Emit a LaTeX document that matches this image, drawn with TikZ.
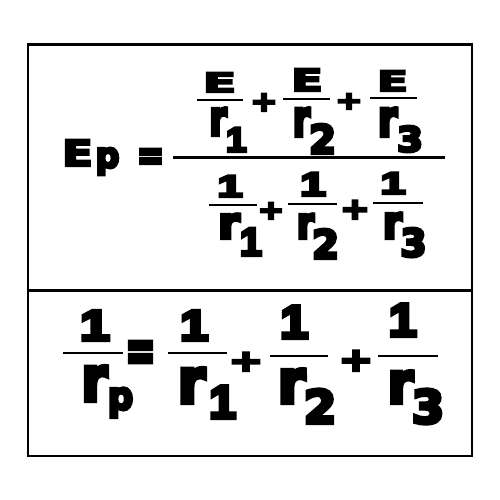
\documentclass[tikz,border=0pt]{standalone}
\usepackage{fontspec}
\usepackage{graphicx}
\newfontfamily\hv{DejaVu Sans Bold}[FakeBold=8]
\newfontfamily\hvE{DejaVu Sans Bold}[FakeBold=6]
\newfontfamily\hvone{Liberation Sans Bold}[FakeBold=8]
\newcommand\gfac{0.9}
\newcommand\gly[5]{\pgfmathsetmacro\gs{#3*\gfac}%
  \node[glyph,yshift={\gs*0.04pt}] (#1) at (#2) {\fontsize{\gs pt}{\gs pt}\selectfont\scalebox{#4}[1]{#5}};}
\newcommand\glyE[5]{\pgfmathsetmacro\gs{#3*0.94}%
  \node[glyph,font=\hvE,yshift={\gs*0.03pt}] (#1) at (#2) {\fontsize{\gs pt}{\gs pt}\selectfont\scalebox{#4}[1]{#5}};}
\newcommand\glyone[4]{\pgfmathsetmacro\gs{#3*\gfac}%
  \node[glyph,font=\hvone,yshift={\gs*0.04pt},xshift={\gs*#4*0.035pt}] (#1) at (#2) {\fontsize{\gs pt}{\gs pt}\selectfont\scalebox{#4}[1]{1}};}
\begin{document}
\begin{tikzpicture}[x=1pt,y=-1pt,
  glyph/.style={inner sep=0pt,outer sep=0pt,anchor=base,font=\hv},
  frame/.style={line width=2.5pt,line cap=rect},
  fbar/.style={line width=2.2pt}]
\useasboundingbox (0,0) rectangle (500,500);
% frame
\draw[frame] (28,44.5) rectangle (472,456);
\draw[frame] (28,290.5) -- (472,290.5);
% ---- top formula ----
\glyE{EpE}{77.5,167}{38.4}{1.25}{E}
\gly{Epp}{107.5,169}{39}{0.95}{p}
\gly{eqA}{150.5,171}{46}{0.78}{=}
\coordinate (mbL) at (173,157.5); \coordinate (mbR) at (445,157.5);
\draw[fbar] (mbL) -- (mbR);
% numerator
\glyE{nE1}{219.5,93}{28.8}{1.8}{E}
\coordinate (nb1L) at (197,100); \coordinate (nb1R) at (243,100);
\draw[fbar] (nb1L) -- (nb1R);
\gly{nr1}{218,137}{53.6}{0.74}{r}
\glyone{ns1}{235,153}{38.4}{1.07}
\gly{np1}{264,112}{30.6}{1.16}{+}
\glyE{nE2}{307,92}{32.9}{1.5}{E}
\coordinate (nb2L) at (283,99); \coordinate (nb2R) at (330,99);
\draw[fbar] (nb2L) -- (nb2R);
\gly{nr2}{301.5,138}{55.4}{0.7}{r}
\gly{ns2}{322.5,155}{43.9}{0.98}{2}
\gly{np2}{349,110}{27.4}{1.3}{+}
\glyE{nE3}{392.5,92}{30.2}{1.6}{E}
\coordinate (nb3L) at (370,98); \coordinate (nb3R) at (417,98);
\draw[fbar] (nb3L) -- (nb3R);
\gly{nr3}{387.5,138}{55.4}{0.78}{r}
\gly{ns3}{410,153}{38.4}{1.08}{3}
% denominator
\glyone{d11}{228.5,198}{34.3}{1.45}
\coordinate (db1L) at (209,205); \coordinate (db1R) at (257,205);
\draw[fbar] (db1L) -- (db1R);
\gly{dr1}{229,240}{48.2}{1.0}{r}
\glyone{ds1}{249.5,257}{43.9}{1.0}
\gly{dp1}{271,220}{29}{1.2}{+}
\glyone{d12}{311.5,197}{37}{1.38}
\coordinate (db2L) at (288,204); \coordinate (db2R) at (337,204);
\draw[fbar] (db2L) -- (db2R);
\gly{dr2}{305.5,240}{48.2}{0.8}{r}
\gly{ds2}{325.5,260}{43.9}{0.98}{2}
\gly{dp2}{355,220}{32.3}{1.2}{+}
\glyone{d13}{391.5,195}{34.3}{1.45}
\coordinate (db3L) at (373,203); \coordinate (db3R) at (423,203);
\draw[fbar] (db3L) -- (db3R);
\gly{dr3}{392.5,240}{50}{0.86}{r}
\gly{ds3}{413.5,258}{42.5}{0.98}{3}
% ---- bottom formula ----
\glyone{b1p}{93,342}{48}{1.23}
\coordinate (bbpL) at (63,353); \coordinate (bbpR) at (123,353);
\draw[fbar] (bbpL) -- (bbpR);
\gly{brp}{94.5,403}{67.9}{0.85}{r}
\gly{bsp}{120.5,411}{42.9}{0.92}{p}
\gly{beq}{140.5,373}{66}{0.6}{=}
\glyone{b11}{192.5,342}{48}{1.17}
\coordinate (bb1L) at (168,353); \coordinate (bb1R) at (227,353);
\draw[fbar] (bb1L) -- (bb1R);
\gly{br1}{191.5,405}{67.9}{0.9}{r}
\glyone{bs1}{221,420}{52}{1.03}
\gly{bp1}{246,372}{32.3}{1.4}{+}
\glyone{b12}{292.5,340}{52}{1.07}
\coordinate (bb2L) at (270,356); \coordinate (bb2R) at (328,356);
\draw[fbar] (bb2L) -- (bb2R);
\gly{br2}{291.5,405}{66}{0.92}{r}
\gly{bs2}{320,425}{50.8}{1.02}{2}
\gly{bp2}{356,372}{35.5}{1.27}{+}
\glyone{b13}{401,338}{52}{1.07}
\coordinate (bb3L) at (378,356); \coordinate (bb3R) at (438,356);
\draw[fbar] (bb3L) -- (bb3R);
\gly{br3}{400.5,405}{62.5}{0.9}{r}
\gly{bs3}{428,425}{50.8}{1.02}{3}
\end{tikzpicture}
\end{document}
